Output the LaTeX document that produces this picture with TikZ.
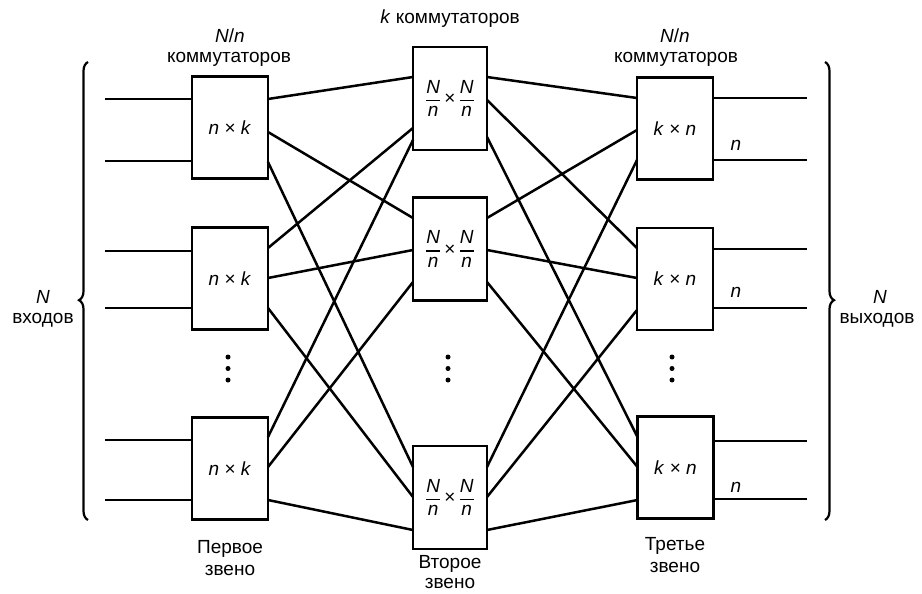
\documentclass[tikz,border=0pt]{standalone}
\usepackage{fontspec}
\setmainfont{Liberation Sans}
\usepackage{amsmath}
\usetikzlibrary{decorations.pathreplacing}

\newcommand{\nfrac}{\genfrac{}{}{1.6pt}{0}{\textit{N}}{\textit{n}}}

\begin{document}
\begin{tikzpicture}[x=1pt,y=-1pt,
  sw/.style={draw,line width=2.8pt,fill=white,inner sep=0pt,outer sep=0pt,
    minimum width=76pt,minimum height=102pt,font=\fontsize{19}{19}\selectfont},
  midsw/.style={sw,minimum width=74pt,minimum height=103pt},
  wire/.style={line width=2.5pt},
  lbl/.style={font=\fontsize{19}{21}\selectfont,inner sep=0pt},
  dotmark/.style={circle,fill,inner sep=0pt,minimum size=5pt},
  curly/.style={line width=2.2pt,decorate,decoration={brace,amplitude=9pt}}
]
\useasboundingbox (0,0) rectangle (922,594);

% first stage
\node[sw] (L1) at (230,127.5) {\textit{n} × \textit{k}};
\node[sw] (L2) at (230,278.5) {\textit{n} × \textit{k}};
\node[sw] (L3) at (230,468.5) {\textit{n} × \textit{k}};
% second stage
\node[midsw] (M1) at (450,98.5) {$\nfrac\mbox{\,×\,}\nfrac$};
\node[midsw] (M2) at (450,249) {$\nfrac\mbox{\,×\,}\nfrac$};
\node[midsw] (M3) at (450,497.5) {$\nfrac\mbox{\,×\,}\nfrac$};
% third stage
\node[sw] (R1) at (675,128.5) {\textit{k} × \textit{n}};
\node[sw] (R2) at (675,279) {\textit{k} × \textit{n}};
\node[sw] (R3) at (675.5,467.5) {\textit{k} × \textit{n}};

% free ends of the outer lines
\coordinate (inL) at (105,0);
\coordinate (outR) at (807,0);

% inputs
\foreach \b/\ya/\yb in {L1/99/161, L2/251/308, L3/440/500}{
  \draw[wire] (\b.west |- 0,\ya) -- (inL |- 0,\ya);
  \draw[wire] (\b.west |- 0,\yb) -- (inL |- 0,\yb);
}
% outputs
\foreach \b/\ya/\yb in {R1/98/160, R2/249/308, R3/441/499}{
  \draw[wire] (\b.east |- 0,\ya) -- (outR |- 0,\ya);
  \draw[wire] (\b.east |- 0,\yb) -- (outR |- 0,\yb);
}

% first stage -> second stage
\foreach \a/\ya/\b/\yb in {
  L1/99/M1/77,   L1/132/M2/218, L1/162/M3/467,
  L2/248/M1/128, L2/278/M2/250, L2/308/M3/497,
  L3/437/M1/140, L3/467/M2/282, L3/500/M3/530}{
  \draw[wire] (\a.east |- 0,\ya) -- (\b.west |- 0,\yb);
}
% second stage -> third stage
\foreach \a/\ya/\b/\yb in {
  M1/77/R1/98,   M1/100/R2/248, M1/137/R3/437,
  M2/218/R1/130, M2/250/R2/278, M2/282/R3/467,
  M3/467/R1/160, M3/497/R2/310, M3/530/R3/500}{
  \draw[wire] (\a.east |- 0,\ya) -- (\b.west |- 0,\yb);
}

% vertical ellipses
\foreach \x [count=\i] in {228,448,672}{
  \node[dotmark] (d\i a) at (\x,357) {};
  \node[dotmark] (d\i b) at (\x,368.5) {};
  \node[dotmark] (d\i c) at (\x,380) {};
}

% braces
\draw[curly,decoration={aspect=0.48}] (88,520) -- (88,62);
\draw[curly,decoration={aspect=0.52}] (825,62) -- (825,520);

% labels
\node[lbl] (tk) at (450,19) {\textit{k} коммутаторов};
\node[lbl] (tl1) at (230,36) {\textit{N}/\textit{n}};
\node[lbl] (tl2) at (229,59) {коммутаторов};
\node[lbl] (tr1) at (675,36) {\textit{N}/\textit{n}};
\node[lbl] (tr2) at (676,59) {коммутаторов};

\node[lbl] (inN) at (43,297) {\textit{N}};
\node[lbl] (inT) at (43,320) {входов};
\node[lbl] (outN) at (880,297) {\textit{N}};
\node[lbl] (outT) at (877,320) {выходов};

\node[lbl] (s1a) at (230,549) {Первое};
\node[lbl] (s1b) at (230,570) {звено};
\node[lbl] (s2a) at (450,564) {Второе};
\node[lbl] (s2b) at (450,583) {звено};
\node[lbl] (s3a) at (675,546) {Третье};
\node[lbl] (s3b) at (675,567) {звено};

\node[lbl] (n1) at (736,145) {\textit{n}};
\node[lbl] (n2) at (736,292) {\textit{n}};
\node[lbl] (n3) at (736,487) {\textit{n}};
\end{tikzpicture}
\end{document}
